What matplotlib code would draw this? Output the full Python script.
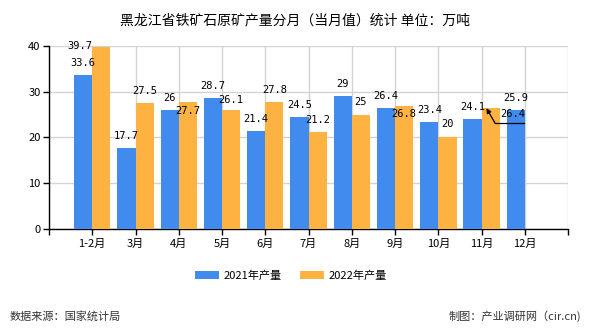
import numpy as np
import matplotlib
matplotlib.use("Agg")
import matplotlib.pyplot as plt
from matplotlib.transforms import offset_copy

plt.rcParams['font.family'] = ['Noto Sans CJK SC', 'DejaVu Sans']

months = ['1-2月', '3月', '4月', '5月', '6月', '7月', '8月', '9月', '10月', '11月', '12月']
prod_2021 = [33.6, 17.7, 26, 28.7, 21.4, 24.5, 29, 26.4, 23.4, 24.1, 25.9]
prod_2022 = [39.7, 27.5, 27.7, 26.1, 27.8, 21.2, 25, 26.8, 20, 26.4, None]

# label offsets (pixels) where the original shifts labels to avoid overlap
off_2021 = [(0, 12)] * 11
off_2022 = [(-21, 1), (0, 12), (0, -9), (0, 10), (0, 12), (0, 12), (0, 13), (0, -8), (0, 13), 'leader', None]

blue = '#418BEE'
orange = '#FDB242'

fig = plt.figure(figsize=(5.9, 3.3), dpi=100)
ax = fig.add_axes([0.083, 0.306, 0.88, 0.555])

x = np.arange(1, len(months) + 1)
w = 0.42
ax.bar(x - w / 2, prod_2021, width=w, color=blue, label='2021年产量', zorder=3)
x22 = [xi for xi, v in zip(x, prod_2022) if v is not None]
v22 = [v for v in prod_2022 if v is not None]
ax.bar(np.array(x22) + w / 2, v22, width=w, color=orange, label='2022年产量', zorder=3)

lab_font = dict(family='DejaVu Sans Mono', fontsize=7.5, color='black', ha='center', va='center', zorder=5)
for xi, v, o in zip(x, prod_2021, off_2021):
    ax.annotate(f'{v:g}', (xi - w / 2, v), xytext=o, textcoords='offset pixels', **lab_font)
for xi, v, o in zip(x, prod_2022, off_2022):
    if v is None:
        continue
    if o == 'leader':
        # label moved right, underlined, with an arrow back to the bar
        xb = xi + w / 2
        ax.annotate(f'{v:g}', (xb, v), xytext=(22, -6), textcoords='offset pixels', **lab_font)
        tr = offset_copy(ax.transData, fig=fig, x=0, y=-15, units='dots')
        ax.plot([xb + 0.1, xb + 0.78], [v, v], color='black', lw=0.9, transform=tr, zorder=5)
        ax.annotate('', xy=(xb - 0.1, v), xytext=(xb + 0.1, v),
                    textcoords=tr,
                    arrowprops=dict(arrowstyle='-|>', color='black', lw=0.9,
                                    shrinkA=0, shrinkB=0, mutation_scale=7),
                    zorder=5)
        continue
    ax.annotate(f'{v:g}', (xi + w / 2, v), xytext=o, textcoords='offset pixels', **lab_font)

ax.set_xlim(0, 12)
ax.set_ylim(0, 40)
ax.set_yticks([0, 10, 20, 30, 40])
ax.set_xticks(np.arange(0, 13))
ax.set_xticklabels([''] + months + [''])
ax.tick_params(axis='both', labelsize=8, length=4, width=1, color='black', pad=2)
ax.tick_params(axis='x', pad=3)
ax.grid(True, color='#d3d3d3', lw=1, zorder=0)
for s in ['top', 'right']:
    ax.spines[s].set_visible(False)
for s in ['left', 'bottom']:
    ax.spines[s].set_color('black')
    ax.spines[s].set_linewidth(1)

fig.text(0.5, 0.938, '黑龙江省铁矿石原矿产量分月（当月值）统计 单位：万吨', ha='center', va='center', fontsize=10)

fig.legend(loc='center', bbox_to_anchor=(0.493, 0.164), ncol=2, frameon=False, fontsize=8,
           handlelength=2.2, handleheight=0.7, columnspacing=1.6, handletextpad=0.4)

fig.text(0.017, 0.042, '数据来源：国家统计局', ha='left', va='center', fontsize=8, color='#333333')
fig.text(0.985, 0.042, '制图：产业调研网（cir.cn)', ha='right', va='center', fontsize=8, color='#333333')

fig.savefig('out.png', dpi=100)
